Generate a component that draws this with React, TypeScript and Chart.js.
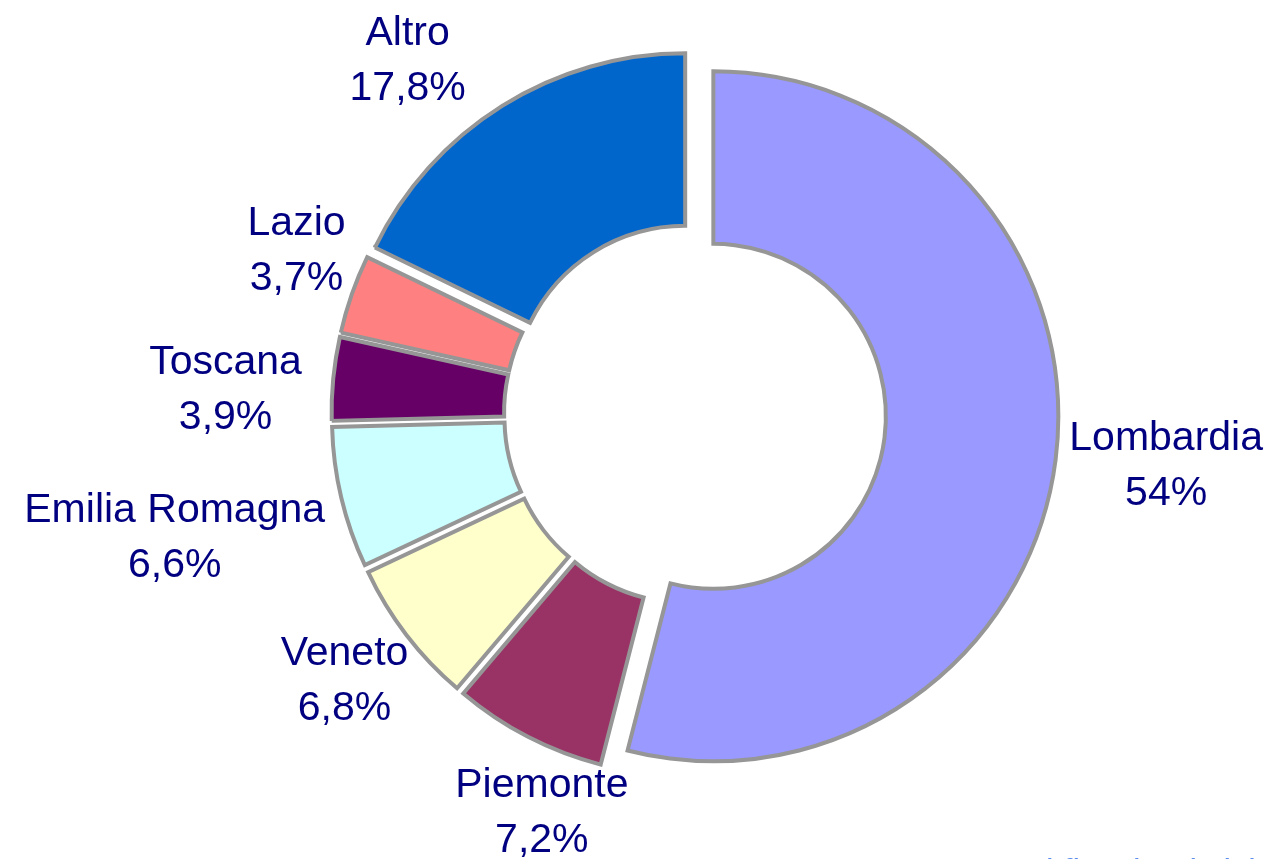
import React, { useEffect, useRef } from 'react';
import { Chart, registerables } from 'chart.js';

Chart.register(...registerables);

// ---- data ----
const regions = ['Lombardia', 'Piemonte', 'Veneto', 'Emilia Romagna', 'Toscana', 'Lazio', 'Altro'];
const shares = [54, 7.2, 6.8, 6.6, 3.9, 3.7, 17.8];
const shareLabels = ['54%', '7,2%', '6,8%', '6,6%', '3,9%', '3,7%', '17,8%'];
const sliceColors = ['#9999FF', '#993366', '#FFFFCC', '#CCFFFF', '#660066', '#FF8080', '#0066CC'];
const footerText = 'l flussi turistici';

// ---- label placement tweaks (pixels) ----
const labelNudgeX = [2, 53, 5, -7, -20, 9, -55];
const labelNudgeY = [-10, -2, -8, -1, 17, -24, 15];

const EXPLODE = 18.5;
const FONT = '41px "Liberation Sans", Arial, sans-serif';
const LINE_GAP = 55;
const CAP = 29;
const LABEL_GAP = 8;

const explodePlugin = {
  id: 'explode',
  beforeDatasetsDraw(chart: any) {
    const meta = chart.getDatasetMeta(0);
    const { left, right, top, bottom } = chart.chartArea;
    const cx = (left + right) / 2;
    const cy = (top + bottom) / 2;
    meta.data.forEach((arc: any) => {
      const mid = (arc.startAngle + arc.endAngle) / 2;
      arc.x = cx + Math.cos(mid) * EXPLODE;
      arc.y = cy + Math.sin(mid) * EXPLODE;
    });
  },
};

const labelPlugin = {
  id: 'sliceLabels',
  afterDatasetsDraw(chart: any) {
    const ctx = chart.ctx;
    const meta = chart.getDatasetMeta(0);
    ctx.save();
    ctx.font = FONT;
    ctx.fillStyle = '#000080';
    ctx.textAlign = 'center';
    ctx.textBaseline = 'alphabetic';
    meta.data.forEach((arc: any, i: number) => {
      const mid = (arc.startAngle + arc.endAngle) / 2;
      const dx = Math.cos(mid);
      const dy = Math.sin(mid);
      const w = Math.max(ctx.measureText(regions[i]).width, ctx.measureText(shareLabels[i]).width);
      const h = LINE_GAP + CAP;
      const support = Math.abs(dx) * w / 2 + Math.abs(dy) * h / 2;
      const dist = arc.outerRadius + LABEL_GAP + support;
      const lx = arc.x + dx * dist + labelNudgeX[i];
      const ly = arc.y + dy * dist + labelNudgeY[i];
      ctx.fillText(regions[i], lx, ly - LINE_GAP / 2 + CAP / 2);
      ctx.fillText(shareLabels[i], lx, ly + LINE_GAP / 2 + CAP / 2);
    });
    // partially visible footer text cut by the bottom edge
    ctx.font = '34px "Liberation Sans", Arial, sans-serif';
    ctx.fillStyle = '#5B8DEF';
    ctx.textAlign = 'left';
    ctx.fillText(footerText, 1046, 882);
    ctx.restore();
  },
};

export default function App() {
  const canvasRef = useRef<HTMLCanvasElement | null>(null);

  useEffect(() => {
    if (!canvasRef.current) return;
    const chart = new Chart(canvasRef.current, {
      type: 'doughnut',
      data: {
        labels: regions,
        datasets: [
          {
            data: shares,
            backgroundColor: sliceColors,
            borderColor: '#969696',
            borderWidth: 4,
            hoverBorderWidth: 4,
            borderJoinStyle: 'miter',
          } as any,
        ],
      },
      options: {
        responsive: false,
        animation: false,
        events: [],
        radius: 345,
        cutout: '50%',
        layout: { padding: { left: 112, right: 0, top: 0, bottom: 31 } },
        plugins: {
          legend: { display: false },
          tooltip: { enabled: false },
        },
      } as any,
      plugins: [explodePlugin, labelPlugin],
    });
    return () => chart.destroy();
  }, []);

  return (
    <div style={{ position: 'absolute', left: 0, top: 0, width: 1278, height: 859, overflow: 'hidden', background: '#fff' }}>
      <canvas ref={canvasRef} width={1278} height={859} style={{ display: 'block' }} />
    </div>
  );
}
